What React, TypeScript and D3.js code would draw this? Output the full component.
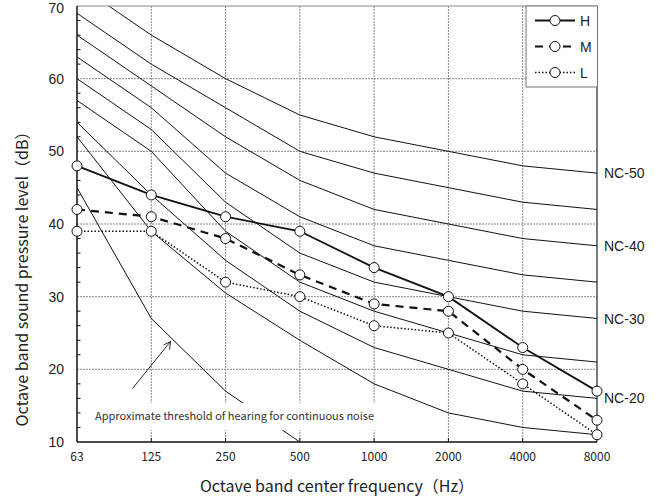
import React from "react";
import * as d3 from "d3";

const freqs = ["63", "125", "250", "500", "1000", "2000", "4000", "8000"];
const yTicks = [10, 20, 30, 40, 50, 60, 70];

const seriesH = [48, 44, 41, 39, 34, 30, 23, 17];
const seriesM = [42, 41, 38, 33, 29, 28, 20, 13];
const seriesL = [39, 39, 32, 30, 26, 25, 18, 11];

const nc50 = [73, 66, 60, 55, 52, 50, 48, 47];
const nc45 = [69, 62, 56, 50, 47, 45, 43, 42];
const nc40 = [66, 59, 52, 46, 42, 40, 38, 37];
const nc35 = [63, 56, 47, 41, 37, 35, 33, 32];
const nc30 = [60, 53, 43, 36, 32, 30, 28, 27];
const nc25 = [57, 50, 39, 32, 28, 25, 22, 21];
const nc20 = [54, 44, 35, 28, 23, 20, 17, 16];
const nc15 = [52, 39, 30.5, 24, 18, 14, 12, 11];

const thresholdFreqs = ["63", "125", "250", "500"];
const thresholdVals = [45, 27, 17, 10];

const ncLabels = ["NC-50", "NC-40", "NC-30", "NC-20"];
const ncLabelVals = [47, 37, 27, 16];

const legendNames = ["H", "M", "L"];

const annotation = "Approximate threshold of hearing for continuous noise";
const xTitle = "Octave band center frequency（Hz）";
const yTitle = "Octave band sound pressure level（dB）";

export default function App() {
  const W = 662, H = 503;
  const left = 77, right = 597, top = 6, bottom = 442;
  const x = d3.scalePoint<string>().domain(freqs).range([left, right]);
  const y = d3.scaleLinear().domain([10, 70]).range([bottom, top]);

  const line = d3
    .line<number>()
    .x((_, i) => x(freqs[i]) as number)
    .y((v) => y(v));

  const ncCurves = [nc50, nc45, nc40, nc35, nc30, nc25, nc20, nc15];
  const thrLine = d3
    .line<number>()
    .x((_, i) => x(thresholdFreqs[i]) as number)
    .y((v) => y(v));

  const series = [
    { name: "H", vals: seriesH, dash: undefined as string | undefined, w: 1.8 },
    { name: "M", vals: seriesM, dash: "8,6", w: 2.2 },
    { name: "L", vals: seriesL, dash: "1.5,2", w: 1.5 },
  ];

  const gridStyle = { stroke: "#8a8a8a", strokeWidth: 1, strokeDasharray: "2,1" };
  const minor = d3.range(12, 70, 2).filter((v) => v % 10 !== 0);
  const jp = "'Noto Sans CJK JP', 'Noto Sans', sans-serif";
  const arial = "'Liberation Sans', Arial, sans-serif";

  return (
    <svg
      width={W}
      height={H}
      style={{ position: "absolute", left: 0, top: 0, background: "#fff" }}
    >
      <defs>
        <clipPath id="plotClip">
          <rect x={left} y={top} width={right - left} height={bottom - top} />
        </clipPath>
      </defs>
      <rect x={0} y={0} width={W} height={H} fill="#fff" />

      {/* horizontal grid */}
      {yTicks.slice(1, -1).map((t) => (
        <line key={"hg" + t} x1={left} x2={right} y1={y(t)} y2={y(t)} {...gridStyle} />
      ))}
      {/* vertical grid */}
      {freqs.slice(1, -1).map((f) => (
        <line key={"vg" + f} x1={x(f)} x2={x(f)} y1={top} y2={bottom} {...gridStyle} />
      ))}

      {/* NC curves */}
      <g clipPath="url(#plotClip)">
        {ncCurves.map((c, i) => (
          <path key={"nc" + i} d={line(c) || ""} fill="none" stroke="#111" strokeWidth={1} />
        ))}
        <path d={thrLine(thresholdVals) || ""} fill="none" stroke="#111" strokeWidth={1} />
      </g>

      {/* annotation box + text */}
      <rect x={90} y={403} width={298} height={27} fill="#fff" />
      <text x={95} y={420} fontSize={11} fontFamily={jp} fill="#333">
        {annotation}
      </text>
      {/* arrow */}
      <line x1={132.5} y1={388.5} x2={170.5} y2={341.5} stroke="#111" strokeWidth={0.9} />
      <path
        d={`M${170.5 - 7},${341.5 + 3.5} L170.5,341.5 L${170.5 - 1},${341.5 + 8}`}
        fill="none"
        stroke="#111"
        strokeWidth={0.9}
      />

      {/* frame */}
      <line x1={left} x2={right} y1={top} y2={top} stroke="#888" strokeWidth={1} />
      <line x1={right} x2={right} y1={top} y2={bottom} stroke="#222" strokeWidth={1.2} />
      <line x1={left} x2={left} y1={top} y2={bottom} stroke="#111" strokeWidth={1.5} />
      <line x1={left} x2={right} y1={bottom} y2={bottom} stroke="#111" strokeWidth={1.5} />
      {minor.map((t) => (
        <line key={"mt" + t} x1={left} x2={left + 3.5} y1={y(t)} y2={y(t)} stroke="#111" strokeWidth={1} />
      ))}
      {freqs.slice(1, -1).map((f) => (
        <line key={"xt" + f} x1={x(f)} x2={x(f)} y1={bottom} y2={bottom - 4} stroke="#111" strokeWidth={1} />
      ))}

      {/* data series */}
      {series.map((s) => (
        <g key={s.name}>
          <path
            d={line(s.vals) || ""}
            fill="none"
            stroke="#111"
            strokeWidth={s.w}
            strokeDasharray={s.dash}
          />
          {s.vals.map((v, i) => (
            <circle
              key={i}
              cx={x(freqs[i])}
              cy={y(v)}
              r={5}
              fill="#fff"
              stroke="#111"
              strokeWidth={1}
            />
          ))}
        </g>
      ))}

      {/* legend */}
      <rect x={526} y={top} width={71.5} height={81} fill="#fff" stroke="#777" strokeWidth={1} />
      {series.map((s, i) => {
        const ly = 20.5 + i * 26;
        return (
          <g key={"lg" + s.name}>
            <line
              x1={535}
              x2={575}
              y1={ly}
              y2={ly}
              stroke="#111"
              strokeWidth={s.w}
              strokeDasharray={s.dash}
            />
            <circle cx={555} cy={ly} r={5} fill="#fff" stroke="#111" strokeWidth={1} />
            <text x={580} y={ly} dy="0.36em" fontSize={14} fontFamily={arial} fill="#222">
              {legendNames[i]}
            </text>
          </g>
        );
      })}

      {/* NC labels */}
      {ncLabels.map((lab, i) => (
        <text
          key={lab}
          x={604}
          y={y(ncLabelVals[i])}
          dy="0.36em"
          fontSize={14}
          fontFamily={arial}
          fill="#222"
        >
          {lab}
        </text>
      ))}

      {/* y tick labels */}
      {yTicks.map((t) => (
        <text
          key={"yl" + t}
          x={64}
          y={Math.max(y(t), 7.5)}
          dy="0.36em"
          textAnchor="end"
          fontSize={14}
          fontFamily={arial}
          fill="#222"
        >
          {t}
        </text>
      ))}
      {/* x tick labels */}
      {freqs.map((f) => (
        <text
          key={"xl" + f}
          x={x(f)}
          y={457}
          dy="0.36em"
          textAnchor="middle"
          fontSize={12}
          fontFamily={jp}
          fill="#222"
        >
          {f}
        </text>
      ))}

      {/* axis titles */}
      <text x={337} y={486} dy="0.36em" textAnchor="middle" fontSize={16} fontFamily={jp} fill="#222">
        {xTitle}
      </text>
      <text
        transform={`translate(22,275) rotate(-90)`}
        dy="0.36em"
        textAnchor="middle"
        fontSize={16}
        fontFamily={jp}
        fill="#222"
      >
        {yTitle}
      </text>
    </svg>
  );
}
